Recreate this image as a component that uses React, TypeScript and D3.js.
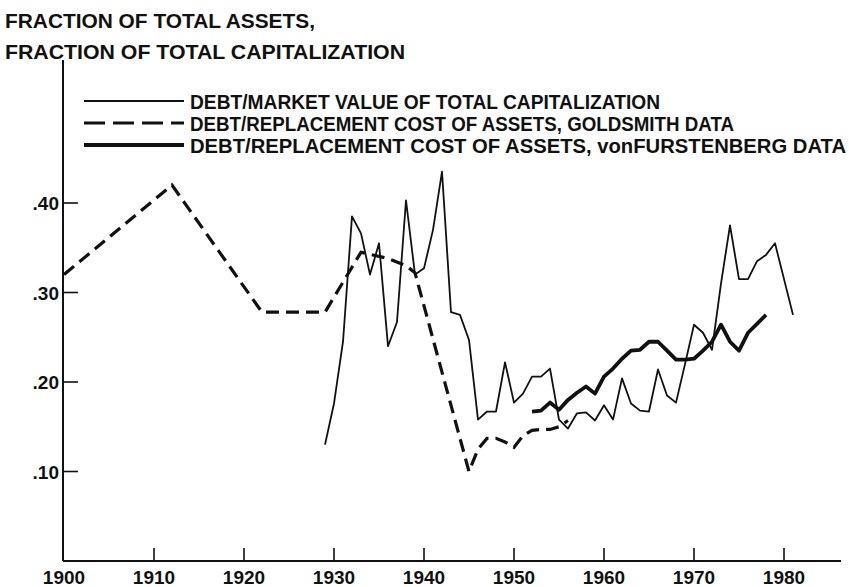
import React from "react";
import * as d3 from "d3";

const marketYears = [
  1929, 1930, 1931, 1932, 1933, 1934, 1935, 1936, 1937, 1938, 1939, 1940, 1941, 1942, 1943, 1944, 1945,
  1946, 1947, 1948, 1949, 1950, 1951, 1952, 1953, 1954, 1955, 1956, 1957, 1958, 1959, 1960, 1961, 1962,
  1963, 1964, 1965, 1966, 1967, 1968, 1969, 1970, 1971, 1972, 1973, 1974, 1975, 1976, 1977, 1978, 1979, 1981,
];
const marketValues = [
  0.13, 0.176, 0.245, 0.385, 0.366, 0.32, 0.355, 0.24, 0.267, 0.403, 0.32, 0.327, 0.37, 0.435, 0.278, 0.275, 0.247,
  0.158, 0.167, 0.167, 0.222, 0.177, 0.187, 0.206, 0.206, 0.215, 0.158, 0.148, 0.165, 0.166, 0.157, 0.174, 0.158, 0.204,
  0.176, 0.168, 0.167, 0.214, 0.185, 0.177, 0.22, 0.264, 0.255, 0.236, 0.31, 0.375, 0.315, 0.315, 0.335, 0.342, 0.355, 0.275,
];

const goldsmithYears = [
  1900, 1912, 1922, 1929, 1933, 1936, 1938, 1939, 1945, 1946, 1947, 1948, 1949, 1950, 1951, 1952, 1953, 1954, 1955, 1956,
];
const goldsmithValues = [
  0.32, 0.42, 0.278, 0.278, 0.345, 0.338, 0.33, 0.322, 0.1, 0.125, 0.137, 0.137, 0.133, 0.127, 0.14, 0.146, 0.147, 0.147, 0.15, 0.157,
];

const furstYears = [
  1952, 1953, 1954, 1955, 1956, 1957, 1958, 1959, 1960, 1961, 1962, 1963, 1964, 1965, 1966, 1967, 1968, 1969,
  1970, 1971, 1972, 1973, 1974, 1975, 1976, 1977, 1978,
];
const furstValues = [
  0.167, 0.168, 0.177, 0.169, 0.18, 0.188, 0.195, 0.187, 0.206, 0.215, 0.226, 0.235, 0.236, 0.245, 0.245, 0.235, 0.225, 0.225,
  0.226, 0.235, 0.245, 0.264, 0.245, 0.235, 0.255, 0.265, 0.275,
];

const xTicks = [1900, 1910, 1920, 1930, 1940, 1950, 1960, 1970, 1980];
const yTicks = [0.1, 0.2, 0.3, 0.4];
const titleLines = ["FRACTION OF TOTAL ASSETS,", "FRACTION OF TOTAL CAPITALIZATION"];
const legendLabels = [
  "DEBT/MARKET VALUE OF TOTAL CAPITALIZATION",
  "DEBT/REPLACEMENT COST OF ASSETS, GOLDSMITH DATA",
  "DEBT/REPLACEMENT COST OF ASSETS, vonFURSTENBERG DATA",
];

const ink = "#111";
const font = "'Liberation Sans Narrow', 'Liberation Sans', Arial, sans-serif";

export default function App() {
  const width = 849;
  const height = 587;

  const x = d3.scaleLinear().domain([1900, 1980]).range([64, 784]);
  const y = d3.scaleLinear().domain([0, 0.4]).range([561, 203]);

  const line = d3
    .line<[number, number]>()
    .x((d) => x(d[0]))
    .y((d) => y(d[1]));

  const market = marketYears.map((yr, i) => [yr, marketValues[i]] as [number, number]);
  const goldsmith = goldsmithYears.map((yr, i) => [yr, goldsmithValues[i]] as [number, number]);
  const furst = furstYears.map((yr, i) => [yr, furstValues[i]] as [number, number]);

  const axisX0 = x(1900) - 1;
  const axisRight = 841;

  // legend geometry
  const legendRows = [109, 131, 153];
  const legendEnds = [660, 734, 846];
  const legendStyles = [
    { w: 1.8, dash: undefined },
    { w: 3.2, dash: "21 8" },
    { w: 3.8, dash: undefined },
  ];

  return (
    <div style={{ position: "absolute", left: 0, top: 0 }}>
      <svg width={width} height={height} style={{ display: "block", background: "#fff" }}>
        {/* title */}
        <text x={5} y={28} fontFamily={font} fontWeight="bold" fontSize={21} fill={ink}
          textLength={310} lengthAdjust="spacingAndGlyphs">{titleLines[0]}</text>
        <text x={5} y={59} fontFamily={font} fontWeight="bold" fontSize={21} fill={ink}
          textLength={400} lengthAdjust="spacingAndGlyphs">{titleLines[1]}</text>

        {/* axes */}
        <line x1={axisX0} x2={axisX0} y1={60} y2={y(0)} stroke={ink} strokeWidth={2} />
        <line x1={axisX0} x2={axisRight} y1={y(0)} y2={y(0)} stroke={ink} strokeWidth={2} />

        {yTicks.map((t) => (
          <g key={t}>
            <line x1={axisX0} x2={axisX0 + 15} y1={y(t)} y2={y(t)} stroke={ink} strokeWidth={1.6} />
            <text x={59} y={y(t) + 7} textAnchor="end" fontFamily="'Liberation Sans', Arial, sans-serif"
              fontWeight="bold" fontSize={19} fill={ink}>
              {"." + String(Math.round(t * 100)).padStart(2, "0")}
            </text>
          </g>
        ))}

        {xTicks.map((t) => (
          <g key={t}>
            {t > 1900 && (
              <line x1={x(t)} x2={x(t)} y1={y(0)} y2={y(0) - 13} stroke={ink} strokeWidth={1.6} />
            )}
            <text x={x(t)} y={584} textAnchor="middle" fontFamily="'Liberation Sans', Arial, sans-serif"
              fontWeight="bold" fontSize={19} fill={ink}>
              {t}
            </text>
          </g>
        ))}

        {/* series */}
        <path d={line(goldsmith) ?? ""} fill="none" stroke={ink} strokeWidth={3.2} strokeDasharray="13 7" />
        <path d={line(furst) ?? ""} fill="none" stroke={ink} strokeWidth={3.8} strokeLinejoin="round" />
        <path d={line(market) ?? ""} fill="none" stroke={ink} strokeWidth={1.8} strokeLinejoin="round" />

        {/* legend */}
        {legendLabels.map((label, i) => (
          <g key={label}>
            <line x1={84} x2={184} y1={legendRows[i] - 8} y2={legendRows[i] - 8} stroke={ink}
              strokeWidth={legendStyles[i].w} strokeDasharray={legendStyles[i].dash} />
            <text x={190} y={legendRows[i]} fontFamily={font} fontWeight="bold" fontSize={20} fill={ink}
              textLength={legendEnds[i] - 190} lengthAdjust="spacingAndGlyphs">
              {label}
            </text>
          </g>
        ))}
      </svg>
    </div>
  );
}
